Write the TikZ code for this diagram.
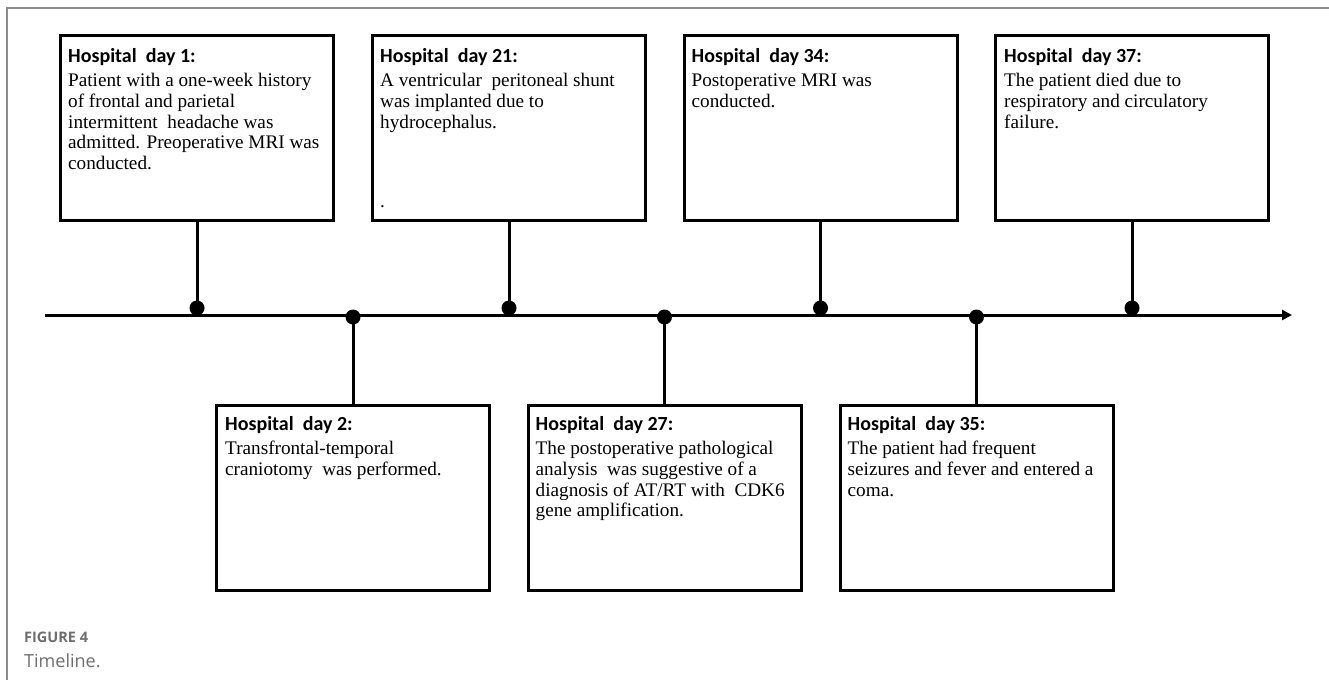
\documentclass[tikz,border=0pt]{standalone}
\usepackage{fontspec}
\setmainfont{Liberation Serif}
\newfontfamily\headfont{Carlito}
\newfontfamily\capfont{Open Sans}
\usetikzlibrary{arrows.meta}
\definecolor{framegray}{HTML}{8C8C8C}
\definecolor{capgray}{HTML}{6E6E6E}
\tikzset{
  evbox/.style={draw=black, line width=3pt, minimum width=273pt, minimum height=185pt, inner sep=0pt},
  evtext/.style={anchor=base west, inner sep=0pt, font=\fontsize{19.2}{20.7}\selectfont},
  stem/.style={line width=3pt},
  evdot/.style={circle, fill=black, inner sep=0pt, minimum size=15pt},
  tline/.style={line width=3pt, -{Triangle[length=10pt,width=10pt]}},
  framel/.style={draw=framegray, line width=1.5pt},
}
\newcommand{\evhead}[1]{{\headfont\bfseries\fontsize{20}{20.7}\selectfont #1}\\[4pt]}
\begin{document}
\begin{tikzpicture}[x=1pt,y=-1pt]
\useasboundingbox (0,0) rectangle (1329,680);
% frame
\coordinate (fa) at (1329,8);
\coordinate (fb) at (7,8);
\coordinate (fc) at (7,680);
\draw[framel] (fa) -- (fb) -- (fc);
% caption
\node[anchor=base west, inner sep=0pt, text=capgray, font=\capfont\fontsize{14.5}{16}\selectfont\bfseries] (fig) at (24,642) {FIGURE 4};
\node[anchor=base west, inner sep=0pt, text=capgray, font=\capfont\fontsize{18}{20}\selectfont] (cap) at (24,667) {Timeline.};
% timeline
\coordinate (ts) at (45,315);
\coordinate (te) at (1292,315);
\draw[tline] (ts) -- (te);
% top boxes
\node[evbox] (b1) at (197,127.5) {};
\node[evbox] (b21) at (509,127.5) {};
\node[evbox] (b34) at (820.5,127.5) {};
\node[evbox] (b37) at (1132,127.5) {};
% bottom boxes
\node[evbox] (b2) at (353,497.5) {};
\node[evbox] (b27) at (664.5,497.5) {};
\node[evbox] (b35) at (976.5,497.5) {};
% dots
\node[evdot] (d1) at (197,308) {};
\node[evdot] (d2) at (353,317) {};
\node[evdot] (d21) at (509,308) {};
\node[evdot] (d27) at (664.5,317) {};
\node[evdot] (d34) at (820.5,308) {};
\node[evdot] (d35) at (976.5,317) {};
\node[evdot] (d37) at (1132,308) {};
% stems
\draw[stem] (b1.south) -- (d1.center);
\draw[stem] (b21.south) -- (d21.center);
\draw[stem] (b34.south) -- (d34.center);
\draw[stem] (b37.south) -- (d37.center);
\draw[stem] (d2.center) -- (b2.north);
\draw[stem] (d27.center) -- (b27.north);
\draw[stem] (d35.center) -- (b35.north);
% texts
\node[evtext] (t1) at ([xshift=9pt]b1.north west |- 0,62) {\parbox[t]{268pt}{\raggedright
\evhead{Hospital\ \ day 1:}
Patient with a one-week history\\
of frontal and parietal\\
intermittent\ \ headache was\\
admitted. Preoperative MRI was\\
conducted.}};
\node[evtext] (t21) at ([xshift=9pt]b21.north west |- 0,62) {\parbox[t]{268pt}{\raggedright
\evhead{Hospital\ \ day 21:}
A ventricular\ \ peritoneal shunt\\
was implanted due to\\
hydrocephalus.\\
\mbox{}\\
\mbox{}\\
\mbox{}\\[-3pt]
.}};
\node[evtext] (t34) at ([xshift=9pt]b34.north west |- 0,62) {\parbox[t]{268pt}{\raggedright
\evhead{Hospital\ \ day 34:}
Postoperative MRI was\\
conducted.}};
\node[evtext] (t37) at ([xshift=10pt]b37.north west |- 0,62) {\parbox[t]{268pt}{\raggedright
\evhead{Hospital\ \ day 37:}
The patient died due to\\
respiratory and circulatory\\
failure.}};
\node[evtext] (t2) at ([xshift=10pt]b2.north west |- 0,430) {\parbox[t]{268pt}{\raggedright
\evhead{Hospital\ \ day 2:}
Transfrontal-temporal\\
craniotomy\ \ was performed.}};
\node[evtext] (t27) at ([xshift=9pt]b27.north west |- 0,430) {\parbox[t]{268pt}{\raggedright
\evhead{Hospital\ \ day 27:}
The postoperative pathological\\
analysis\ \ was suggestive of a\\
diagnosis of AT/RT with\ \ CDK6\\
gene amplification.}};
\node[evtext] (t35) at ([xshift=9pt]b35.north west |- 0,430) {\parbox[t]{268pt}{\raggedright
\evhead{Hospital\ \ day 35:}
The patient had frequent\\
seizures and fever and entered a\\
coma.}};
\end{tikzpicture}
\end{document}
